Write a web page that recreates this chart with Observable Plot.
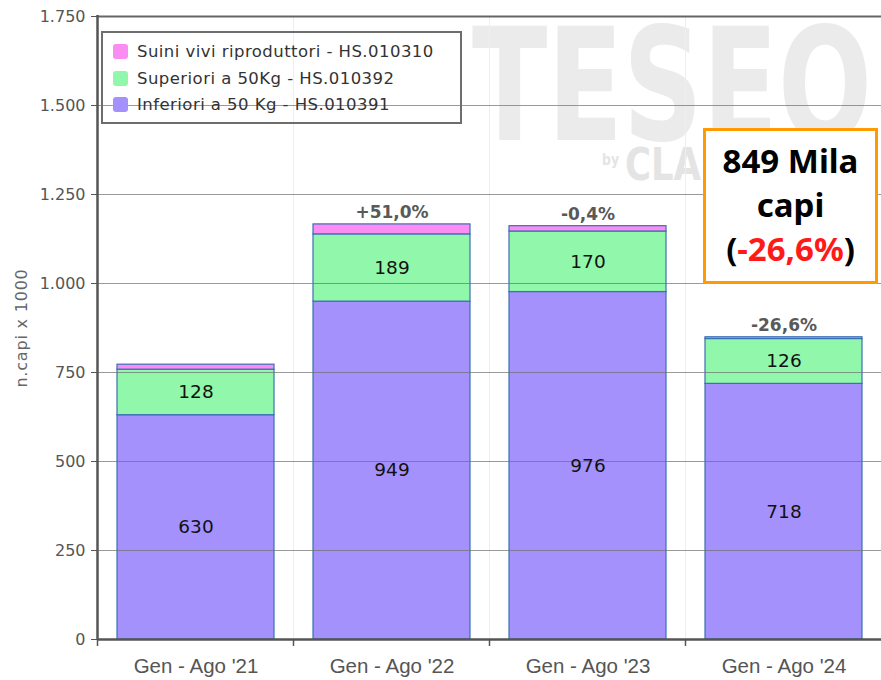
<!DOCTYPE html>
<html><head><meta charset="utf-8">
<script src="https://cdn.jsdelivr.net/npm/d3@7"></script>
<script src="https://cdn.jsdelivr.net/npm/@observablehq/plot@0.6"></script>
<style>
body{margin:0;background:#fff;}
#wrap{position:relative;width:881px;height:680px;overflow:hidden;font-family:"DejaVu Sans",sans-serif;}
#wm{position:absolute;left:0;top:0;}
#legend{position:absolute;left:101px;top:31px;width:357px;height:89px;border:2px solid #6d6d6d;}
.li{position:absolute;left:10px;font-size:16.5px;letter-spacing:0.45px;color:#333;white-space:nowrap;}
.sw{display:inline-block;width:15px;height:15px;border-radius:3px;vertical-align:-2px;margin-right:9px;}
#box{position:absolute;left:703px;top:128px;width:169px;height:142px;border:3px solid #ff9a00;background:#fff;text-align:center;font-family:"Noto Sans",sans-serif;font-weight:700;font-size:33px;line-height:44px;color:#000;padding-top:8px;box-sizing:content-box;}
#box .red{color:#ff1a1a;}
</style></head><body><div id="wrap"></div>
<script>
const periods = ["Gen - Ago '21", "Gen - Ago '22", "Gen - Ago '23", "Gen - Ago '24"];
const seriesNames = ["Inferiori a 50 Kg - HS.010391", "Superiori a 50Kg - HS.010392", "Suini vivi riproduttori - HS.010310"];
const inferiori = [630, 949, 976, 718];
const superiori = [128, 189, 170, 126];
const riproduttori = [14, 28, 15, 5];
const changeLabels = ["", "+51,0%", "-0,4%", "-26,6%"];
const seriesColors = ["#a491fc", "#91f7aa", "#fb8cf2"];
const yTicks = [0, 250, 500, 750, 1000, 1250, 1500, 1750];
const yTitle = "n.capi x 1000";
const boxLines = ["849 Mila", "capi"];
const boxChange = "-26,6%";

const seriesValues = [inferiori, superiori, riproduttori];
const rows = [];
periods.forEach((p, i) => {
  let base = 0;
  seriesNames.forEach((s, k) => {
    const v = seriesValues[k][i];
    rows.push({period: p, series: s, value: v, y1: base, y2: base + v, mid: base + v / 2, show: k < 2});
    base += v;
  });
});
const totals = periods.map((p, i) => ({period: p, total: seriesValues.reduce((a, arr) => a + arr[i], 0), label: changeLabels[i]}));
const fmt = d => d3.format(",")(d).replace(/,/g, ".");

const wrap = document.getElementById("wrap");

// watermark (behind the chart), scaled to fit its area
const wm = d3.select(wrap).append("svg").attr("id", "wm").attr("width", 881).attr("height", 680);
function wmText(str, x, y, w, size, sy, fill) {
  const gg = wm.append("g");
  const t = gg.append("text").attr("font-family", "DejaVu Sans Condensed, DejaVu Sans").attr("font-weight", 700)
    .attr("font-size", size).attr("fill", fill).text(str);
  const len = t.node().getComputedTextLength() || w;
  gg.attr("transform", `translate(${x},${y}) scale(${w / len},${sy})`);
}
wmText("TESEO", 472, 140, 400, 120, 1.3, "#ebebeb");
wmText("by", 602, 165, 17, 15, 1, "#e4e4e4");
wmText("CLA", 625, 180, 76, 40, 1.1, "#e4e4e4");

const chart = Plot.plot({
  width: 881, height: 680,
  marginLeft: 97, marginRight: 0, marginTop: 16, marginBottom: 41,
  style: {background: "transparent", fontFamily: "DejaVu Sans, sans-serif"},
  x: {domain: periods, paddingInner: 0.2, paddingOuter: 0.1},
  y: {domain: [0, 1750]},
  color: {domain: seriesNames, range: seriesColors},
  marks: [
    Plot.barY(rows, {x: "period", y1: "y1", y2: "y2", fill: "series", stroke: "#3a70b5", strokeWidth: 1.2}),
    Plot.ruleY(yTicks.slice(1, -1), {stroke: "#6f6f6f", strokeOpacity: 0.7, strokeWidth: 1}),
    Plot.text(rows.filter(d => d.show), {x: "period", y: "mid", text: d => String(d.value), fontSize: 18.5, fill: "#111"}),
    Plot.text(totals, {x: "period", y: "total", text: "label", dy: -12, fontSize: 17, fontWeight: "bold", fill: "#595959"}),
    Plot.axisY({ticks: yTicks, tickFormat: fmt, tickSize: 6, tickPadding: 6, fontSize: 16, color: "#555",
      label: yTitle, labelAnchor: "center", labelArrow: false, labelOffset: 82}),
    Plot.axisX({tickSize: 0, tickPadding: 19, fontSize: 20.5, color: "#555", fontFamily: "Liberation Sans Narrow, Liberation Sans, sans-serif", label: null}),
    Plot.ruleY([1750], {stroke: "#666", strokeWidth: 2}),
    Plot.ruleY([0], {stroke: "#555", strokeWidth: 2.5})
  ]
});
chart.style.position = "absolute";
chart.style.left = "0px";
chart.style.top = "0px";
wrap.appendChild(chart);

// band-boundary ticks, faint vertical grid, left frame edge
const xs = chart.scale("x");
const ys = chart.scale("y");
const svg = d3.select(chart);
const gap = xs.step - xs.bandwidth;
const bounds = periods.map(p => xs.apply(p) - gap / 2);
const g = svg.insert("g", ":first-child");
bounds.forEach((b, i) => {
  if (i > 0) g.append("line").attr("x1", b).attr("x2", b).attr("y1", ys.apply(1750)).attr("y2", ys.apply(0)).attr("stroke", "#eeeeee");
  svg.append("line").attr("x1", b).attr("x2", b).attr("y1", ys.apply(0)).attr("y2", ys.apply(0) + 7).attr("stroke", "#555").attr("stroke-width", 1.5);
});
svg.append("line").attr("x1", bounds[0]).attr("x2", bounds[0]).attr("y1", ys.apply(1750) - 1).attr("y2", ys.apply(0) + 1)
  .attr("stroke", "#555").attr("stroke-width", 2.5);
svg.select('[aria-label="y-axis label"]').attr("font-size", 16).attr("letter-spacing", "0.8").attr("fill", "#666");

// legend
const legend = d3.select(wrap).append("div").attr("id", "legend");
[2, 1, 0].forEach((k, j) => {
  const it = legend.append("div").attr("class", "li").style("top", (9 + j * 26.5) + "px");
  it.append("span").attr("class", "sw").style("background", seriesColors[k]);
  it.append("span").text(seriesNames[k]);
});

// highlight box
const box = d3.select(wrap).append("div").attr("id", "box");
boxLines.forEach(t => box.append("div").text(t));
const last = box.append("div");
last.append("span").text("(");
last.append("span").attr("class", "red").text(boxChange);
last.append("span").text(")");
</script></body></html>
